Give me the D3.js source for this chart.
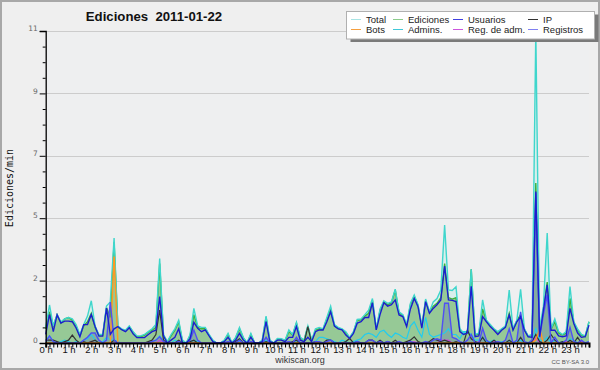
<!DOCTYPE html>
<html><head><meta charset="utf-8">
<script src="https://cdn.jsdelivr.net/npm/d3@7"></script>
<style>html,body{margin:0;padding:0;background:#fff}svg{display:block}</style>
</head><body>
<svg id="c" width="600" height="370"></svg>
<script>
const title = "Ediciones  2011-01-22";
const yTitle = "Ediciones/min";
const hourLabels = d3.range(24).map(h => h + " h");
const yTickValues = [0, 2.2, 4.4, 6.6, 8.8, 11];
const yTickLabels = ["0", "2", "5", "7", "9", "11"];
const legendLabels = ["Total", "Ediciones", "Usuarios", "IP", "Bots", "Admins.", "Reg. de adm.", "Registros"];

// 10-minute slots, 144 per day (values in edits/min)
const total = [
 0.55,1.34,0.6,1.0,0.75,0.85,0.9,0.85,0.65,0.3,0.65,0.95,
 1.49,0.6,0.3,0.3,1.3,1.45,3.7,0.6,0.5,0.45,0.6,0.4,
 0.25,0.25,0.3,0.4,0.5,0.65,2.98,0.3,0.05,0.3,0.5,0.8,
 0.1,0,0.3,1.22,0.6,0.55,0.55,0.3,0.1,0,0,0.1,
 0.34,0,0.2,0.55,0.2,0,0.34,0,0,0.1,0.95,0.1,
 0,0.16,0.15,0.1,0.46,0.3,0.73,0.2,0.1,0.6,0.1,0.5,
 0.55,0.5,0.9,1.3,0.65,0.55,0.5,0.4,0.2,0.4,0.83,0.85,
 1.0,1.16,1.57,0.5,1.2,1.49,1.4,1.45,1.9,1.1,1.0,0.65,
 1.4,1.69,1.35,0.6,1.55,1.1,1.45,1.57,1.87,4.16,1.87,1.85,
 1.98,0.5,0.35,0.4,2.6,0.3,0.35,1.52,0.8,0.65,0.5,0.4,
 0.5,0.6,1.87,0.5,0.8,1.89,0.5,0.25,0.3,11.0,0.5,1.3,
 3.88,0.5,0.85,0.4,0.3,0.4,1.99,0.75,0.5,0.3,0.25,0.75];
const ediciones = [
 0.5,1.1,0.6,1.0,0.7,0.85,0.9,0.8,0.6,0.25,0.6,0.75,
 1.05,0.55,0.28,0.28,1.25,0.9,3.55,0.55,0.48,0.42,0.58,0.38,
 0.22,0.22,0.28,0.38,0.45,0.55,2.8,0.28,0.03,0.25,0.45,0.75,
 0.05,0,0.25,1.0,0.55,0.5,0.5,0.28,0.08,0,0,0.08,
 0.3,0,0.18,0.5,0.18,0,0.3,0,0,0.08,0.9,0.08,
 0,0.14,0.13,0.08,0.4,0.28,0.7,0.18,0.08,0.6,0.08,0.45,
 0.5,0.48,0.85,1.2,0.6,0.52,0.48,0.35,0.18,0.38,0.8,0.82,
 0.95,1.05,1.5,0.48,1.15,1.45,1.35,1.42,1.87,1.05,0.98,0.62,
 1.35,1.65,1.32,0.58,1.5,1.08,1.3,1.4,1.6,2.8,1.6,1.55,
 1.6,0.45,0.32,0.38,2.6,0.28,0.32,1.2,0.78,0.62,0.48,0.38,
 0.48,0.58,1.05,0.48,0.78,1.0,0.48,0.23,0.28,5.64,0.3,1.2,
 2.15,0.48,0.75,0.35,0.28,0.35,1.57,0.72,0.45,0.28,0.23,0.75];
const usuarios = [
 0.3,1.0,0.4,0.99,0.7,0.77,0.77,0.75,0.53,0.22,0.65,0.65,
 1.0,0.58,0.24,0.24,1.23,0.3,0.5,0.58,0.47,0.4,0.54,0.32,
 0.19,0.19,0.19,0.3,0.4,0.45,1.64,0.25,0,0.1,0.2,0.5,
 0,0,0.15,0.73,0.52,0.4,0.46,0.25,0.05,0,0,0.05,
 0.2,0,0.1,0.34,0.1,0,0.2,0,0,0.05,0.75,0.05,
 0,0.1,0.1,0.05,0.2,0.2,0.58,0.1,0.05,0.2,0.05,0.4,
 0.46,0.46,0.75,1.1,0.6,0.5,0.46,0.28,0.16,0.34,0.7,0.75,
 0.9,0.9,1.42,0.46,1.0,1.42,1.3,1.35,1.52,0.99,0.93,0.58,
 1.2,1.57,1.28,0.52,1.46,1.05,1.22,1.35,1.52,2.71,1.52,1.5,
 1.46,0.4,0.3,0.35,2.0,0.22,0.25,0.93,0.75,0.58,0.45,0.3,
 0.45,0.55,0.99,0.45,0.75,0.93,0.45,0.22,0.2,5.34,0.22,1.16,
 2.05,0.45,0.45,0.25,0.22,0.25,1.22,0.69,0.35,0.2,0.22,0.63];
const ip = [
 0.1,0.1,0.1,0.05,0,0.05,0.1,0.28,0.1,0,0.05,0,
 0.05,0.1,0,0,0,0,0.1,0,0,0,0,0,
 0,0,0,0.05,0.1,0.3,1.16,0.1,0,0,0,0.1,
 0,0,0.05,0.1,0,0,0,0,0,0,0,0,
 0,0,0.05,0.15,0,0,0,0,0,0,0.05,0,
 0,0,0,0,0,0.05,0.1,0,0,0.58,0,0.05,
 0,0,0.1,0.1,0,0,0,0.05,0.16,0,0.05,0,
 0,0.1,0.1,0,0.1,0,0.05,0,0.1,0,0,0.05,
 0.1,0.22,0.05,0,0,0.05,0.15,0.1,0.05,0.1,0.05,0,
 0.05,0,0,0.46,0.15,0.05,0,0.2,0,0,0.1,0,
 0,0,0.1,0,0,0.2,0,0,0.05,0.3,0.05,0,
 0.1,0.3,0.1,0,0.05,0,0.1,0,0.2,0,0,0];
const bots = [
 0,0,0,0,0,0,0,0,0,0,0,0,
 0,0,0,0,0,0,3.05,0,0,0,0,0,
 0,0,0,0,0,0,0,0,0,0,0,0,
 0,0,0,0,0,0,0,0,0,0,0,0,
 0,0,0,0,0,0,0,0,0,0,0,0,
 0,0,0,0,0,0,0,0,0,0,0,0,
 0,0,0,0,0,0,0,0,0,0,0,0,
 0,0,0,0,0,0,0,0,0,0,0,0,
 0,0,0,0,0,0,0,0,0,0,0,0,
 0,0,0,0,0,0,0,0,0,0,0,0,
 0,0,0,0,0,0,0,0,0,0.1,0.5,0,
 0,0,0,0,0,0,0,0,0,0,0,0];
const admins = [
 0.1,0.25,0.05,0,0.05,0.1,0.05,0,0.05,0,0.1,0.15,
 0.3,0.1,0,0.05,0.2,0.1,0.1,0.05,0,0,0,0,
 0,0,0,0,0.05,0.1,0.25,0.05,0,0,0.1,0.05,
 0,0,0.05,0.1,0.05,0,0,0,0,0,0,0,
 0,0,0,0.05,0,0,0,0,0,0,0.1,0,
 0,0,0,0,0.05,0,0.1,0,0,0,0,0.05,
 0.2,0.2,0.15,0.1,0.05,0,0.1,0.05,0,0.05,0.1,0.15,
 0.3,0.35,0.3,0.2,0.4,0.45,0.3,0.2,0.35,0.3,0.2,0.15,
 0.6,0.75,0.45,0.2,0.9,0.3,0.2,0.25,0.3,0.35,0.5,0.3,
 0.3,0.15,0.4,0.4,0.3,0.1,0.1,0.2,0.05,0.05,0.1,0,
 0.05,0,0.1,0,0.05,0.1,0,0,0.05,0.5,0.1,0.05,
 0.2,0,0.1,0,0.05,0,0.15,0.1,0,0,0,0.05];
const regAdm = [
 0,0,0,0,0,0,0,0,0,0,0,0,
 0.05,0,0,0,0,0,0,0,0,0,0,0,
 0,0,0,0,0,0,0.1,0,0,0,0,0,
 0,0,0,0,0,0,0,0,0,0,0,0,
 0,0,0,0,0,0,0,0,0,0,0,0,
 0,0,0,0,0.05,0,0,0,0,0,0,0,
 0,0,0,0,0,0,0,0,0,0,0,0,
 0,0,0,0,0,0,0,0,0,0,0,0,
 0,0.05,0,0,0,0,0,0,0.1,0.1,0.1,0,
 0,0,0,0,0,0,0.05,0,0,0,0.05,0,
 0,0,0,0,0,0,0,0,0,0.2,0,0,
 0,0,0,0,0,0.05,0,0,0,0.05,0,0];
const registros = [
 0.05,0.25,0.05,0,0,0,0,0,0,0,0.1,0.2,
 0.35,0.35,0.1,0,0.1,1.44,0.1,0,0,0,0,0,
 0,0,0,0,0.05,0.1,0.22,0.05,0,0,0,0.05,
 0,0,0.1,0.46,0.1,0,0,0,0,0,0,0,
 0.05,0,0,0.1,0,0,0.05,0,0,0,0.2,0,
 0,0,0,0,0.05,0,0.2,0,0,0,0,0.05,
 0.05,0,0.05,0.1,0,0,0,0,0,0,0.05,0,
 0,0.1,0.1,0,0.05,0,0.05,0,0,0.05,0,0,
 0.05,0,0,0,0.05,0,0.1,0.15,0.1,1.4,1.4,0.2,
 0.15,0.05,0,0.1,0.3,0,0,0.52,0.1,0,0,0.05,
 0,0.1,0.5,0,0.1,1.1,0.05,0,0.1,5.3,0.2,1.0,
 1.7,0,0.2,0,0,0.1,0.55,0.05,0,0.1,0,0.05];

const W = 600, H = 370;
const L = 45.7, R = 589, T = 31, B = 343;
const svg = d3.select("#c");
const x = d3.scaleLinear().domain([0, 143]).range([L, R]);
const y = d3.scaleLinear().domain([0, 11]).range([B, T]);

svg.append("rect").attr("width", W).attr("height", H).attr("fill", "#efefef");
svg.append("rect").attr("x", 1).attr("y", 1).attr("width", W - 2).attr("height", H - 2)
  .attr("fill", "none").attr("stroke", "#a8a8a8").attr("stroke-width", 2);
svg.append("rect").attr("x", L).attr("y", T).attr("width", R - L).attr("height", B - T).attr("fill", "#eeeff0");

// grid
svg.append("g").selectAll("line").data(yTickValues.slice(1)).join("line")
  .attr("x1", L).attr("x2", R).attr("y1", d => Math.round(y(d)) + 0.5).attr("y2", d => Math.round(y(d)) + 0.5)
  .attr("stroke", "#cccccc").attr("stroke-width", 1);

const idx = d3.range(144);
const area = arr => d3.area().x(i => x(i)).y0(y(0)).y1(i => y(arr[i]));
const line = arr => d3.line().x(i => x(i)).y(i => y(arr[i]));

const g = svg.append("g");
g.append("path").datum(idx).attr("d", area(total)).attr("fill", "#d9efec");
g.append("path").datum(idx).attr("d", area(ediciones)).attr("fill", "#96c996");
g.append("path").datum(idx).attr("d", area(registros)).attr("fill", "rgba(70,70,190,0.22)");
g.append("path").datum(idx).attr("d", line(ediciones)).attr("fill", "none").attr("stroke", "#3cb03c").attr("stroke-width", 1.4);
g.append("path").datum(idx).attr("d", line(total)).attr("fill", "none").attr("stroke", "#3fd6cc").attr("stroke-width", 1.4);
g.append("path").datum(idx).attr("d", line(admins)).attr("fill", "none").attr("stroke", "#22ccee").attr("stroke-width", 1.2);
g.append("path").datum(idx).attr("d", line(regAdm)).attr("fill", "none").attr("stroke", "#cc44dd").attr("stroke-width", 1.2);
g.append("path").datum(idx).attr("d", line(ip)).attr("fill", "none").attr("stroke", "#333333").attr("stroke-width", 1.2);
g.append("path").datum(idx).attr("d", line(bots)).attr("fill", "none").attr("stroke", "#ff9922").attr("stroke-width", 1.5);
g.append("path").datum(idx).attr("d", line(registros)).attr("fill", "none").attr("stroke", "#4f4ff5").attr("stroke-width", 1.4);
g.append("path").datum(idx).attr("d", line(usuarios)).attr("fill", "none").attr("stroke", "#1c1cd0").attr("stroke-width", 1.35);

// Y axis
const yAx = svg.append("g").attr("transform", `translate(${L},0)`)
  .call(d3.axisLeft(y).tickValues(yTickValues).tickSize(6).tickPadding(2)
    .tickFormat((d, i) => yTickLabels[i]));
yAx.select(".domain").attr("stroke", "#000").attr("stroke-width", 1.3);
yAx.selectAll(".tick line").attr("stroke", "#000");
yAx.selectAll("text").attr("font-family", "DejaVu Sans").attr("font-size", 7.5).attr("fill", "#666").attr("dy", "-0.05em");
const minor = d3.range(0, 11.01, 0.55).filter(v => !yTickValues.some(t => Math.abs(t - v) < 1e-6));
const yMin = svg.append("g").attr("transform", `translate(${L},0)`)
  .call(d3.axisLeft(y).tickValues(minor).tickSize(3).tickFormat(""));
yMin.select(".domain").remove();
yMin.selectAll(".tick line").attr("stroke", "#000");

// X axis
const xAx = svg.append("g").attr("transform", `translate(0,${B})`)
  .call(d3.axisBottom(x).tickValues(idx).tickSize(4.5).tickPadding(0)
    .tickFormat(i => i % 6 === 0 ? hourLabels[i / 6] : ""));
xAx.select(".domain").attr("stroke", "#000").attr("stroke-width", 2);
xAx.selectAll(".tick line").attr("stroke", "#000").attr("stroke-width", 1);
xAx.selectAll("text").attr("font-family", "Liberation Sans").attr("font-size", 9.5).attr("fill", "#111").attr("dy", "0.6em");

// titles
svg.append("text").attr("x", 154).attr("y", 21).attr("text-anchor", "middle")
  .attr("font-family", "Liberation Sans").attr("font-weight", "bold").attr("font-size", 13.2)
  .attr("fill", "#111").attr("xml:space", "preserve").style("white-space", "pre").text(title);
svg.append("text").attr("transform", "translate(13,188) rotate(-90)").attr("text-anchor", "middle")
  .attr("font-family", "DejaVu Sans Mono").attr("font-size", 10).attr("fill", "#111").text(yTitle);
svg.append("text").attr("x", 300).attr("y", 363).attr("text-anchor", "middle")
  .attr("font-family", "Liberation Sans").attr("font-size", 9).attr("fill", "#333").text("wikiscan.org");
svg.append("text").attr("x", 589).attr("y", 364).attr("text-anchor", "end")
  .attr("font-family", "Liberation Sans").attr("font-size", 6).attr("fill", "#555").text("CC BY-SA 3.0");

// legend
const legendColors = ["#a8e4e4", "#8ccc8c", "#4040e0", "#333333", "#f5a040", "#40c8d8", "#cc55dd", "#8080f0"];
const lg = svg.append("g");
lg.append("rect").attr("x", 350.5).attr("y", 14.5).attr("width", 248).attr("height", 27.5).attr("fill", "#7a7a7a");
lg.append("rect").attr("x", 346.5).attr("y", 11.5).attr("width", 248).attr("height", 27.5).attr("fill", "#fff").attr("stroke", "#b0b0b0");
const colX = [351, 393, 453, 528];
const rowY = [19, 29];
legendLabels.forEach((lab, k) => {
  const cx = colX[k % 4], ry = rowY[Math.floor(k / 4)];
  lg.append("line").attr("x1", cx).attr("x2", cx + 10).attr("y1", ry + 0.5).attr("y2", ry + 0.5)
    .attr("stroke", legendColors[k]).attr("stroke-width", 1);
  lg.append("text").attr("x", cx + 15).attr("y", ry + 3.5).attr("font-family", "Liberation Sans")
    .attr("font-size", 9.5).attr("fill", "#222").text(lab);
});
</script>
</body></html>
